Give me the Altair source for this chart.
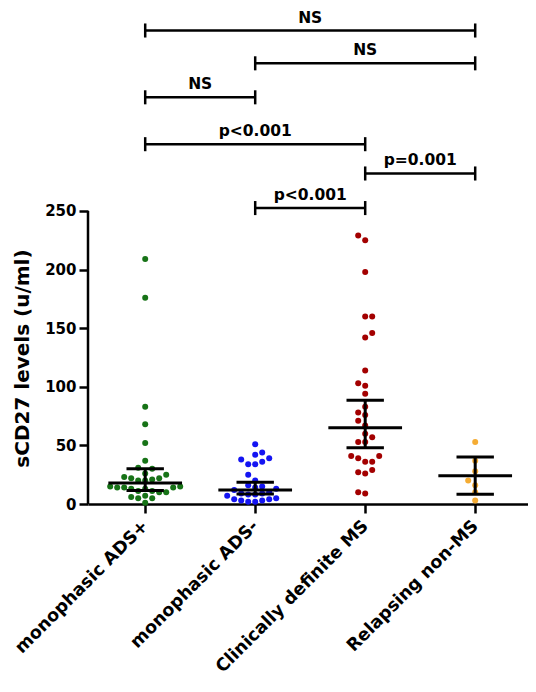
import json
import altair as alt
import pandas as pd

# ---------------- data ----------------
groups = ["monophasic ADS+", "monophasic ADS-", "Clinically definite MS", "Relapsing non-MS"]
colors = ["#177317", "#1414f2", "#a30000", "#f5ac33"]

ads_pos = [209, 176, 83, 68, 52, 37, 31, 30, 26, 25, 23, 22, 22, 21, 20, 20,
           15, 15, 14, 14, 14, 13, 13, 11, 11, 10, 10, 7, 6, 5, 5, 1]
ads_neg = [51, 44, 42, 39, 38, 36, 34, 34, 25, 20, 16, 15, 14, 13, 12, 10,
           9, 9, 8, 8, 7, 5, 4, 4, 3, 3, 2, 2]
cdms = [229, 225, 198, 160, 160, 146, 142, 114, 103, 101, 94, 83, 78, 76, 71,
        67, 60, 57, 53, 53, 41, 41, 39, 36, 36, 29, 27, 26, 10, 9]
relapsing = [53, 37, 28, 20, 16, 10, 3]

medians = [18, 12, 65, 24]
q1s = [11.5, 8.5, 48, 8.3]
q3s = [30, 18.5, 88.5, 40]

# significance brackets: (from group, to group, label)
br_from = [0, 1, 0, 0, 2, 1]
br_to = [3, 3, 1, 2, 3, 2]
br_label = ["NS", "NS", "NS", "p<0.001", "p=0.001", "p<0.001"]
br_level = [404, 376, 347, 307, 282, 252.5]

# ---------------- layout constants ----------------
W, H = 440, 496
PAD_L, PAD_T = 80, 0
PAD_R = 520 - PAD_L - W
PAD_B = 668 - H
X_DOM = [-0.02, 3.98]
Y_DOM = [0, 423.2]
PX_X = W / (X_DOM[1] - X_DOM[0])
PX_Y = H / (Y_DOM[1] - Y_DOM[0])
FONT = "DejaVu Sans"


def swarm(vals, diam=7.0):
    order = sorted(range(len(vals)), key=lambda i: vals[i])
    placed, offs = [], [0.0] * len(vals)
    flip = 1
    for i in order:
        y = vals[i] * PX_Y
        cands = [0.0]
        for j in range(1, 40):
            cands += [flip * j * diam / 2, -flip * j * diam / 2]
        for c in cands:
            if all((c - px) ** 2 + (y - py) ** 2 >= diam ** 2 for px, py in placed):
                break
        placed.append((c, y))
        offs[i] = c
        flip = -flip
    return offs


rows = []
for gi, vals in enumerate([ads_pos, ads_neg, cdms, relapsing]):
    offs = swarm(vals)
    for v, o in zip(vals, offs):
        rows.append({"group": groups[gi], "x": gi + 0.5 + o / PX_X, "value": v})
pts = pd.DataFrame(rows)

MED_HALF, Q_HALF = 0.335, 0.17
eb = pd.DataFrame({
    "gx": [i + 0.5 for i in range(4)],
    "median": medians, "q1": q1s, "q3": q3s,
})
eb["m1"] = eb.gx - MED_HALF
eb["m2"] = eb.gx + MED_HALF
eb["k1"] = eb.gx - Q_HALF
eb["k2"] = eb.gx + Q_HALF

br = pd.DataFrame({
    "x1": [f + 0.5 for f in br_from],
    "x2": [t + 0.5 for t in br_to],
    "label": br_label,
    "level": br_level,
})
br["xm"] = (br.x1 + br.x2) / 2
ends = pd.concat([
    pd.DataFrame({"x": br.x1, "level": br.level}),
    pd.DataFrame({"x": br.x2, "level": br.level}),
])
END_H = 6
ends["lo"] = ends.level - END_H
ends["hi"] = ends.level + END_H

axis_line = pd.DataFrame({"lo": [0], "hi": [250]})

# ---------------- scales / axes ----------------
label_expr = json.dumps(groups) + "[floor(datum.value)]"
xscale = alt.Scale(domain=X_DOM, nice=False, zero=False)
yscale = alt.Scale(domain=Y_DOM, nice=False, zero=False)
xaxis = alt.Axis(
    values=[0.5, 1.5, 2.5, 3.5], labelExpr=label_expr, title=None, grid=False,
    domainColor="black", domainWidth=2.5, tickColor="black", tickWidth=2.5,
    tickSize=9, labelAngle=315, labelAlign="right", labelBaseline="middle",
    labelFont=FONT, labelFontWeight="bold", labelFontSize=17.5, labelColor="black",
    labelPadding=10, labelFlush=False, labelOverlap=False, labelBound=False,
    labelLimit=0,
)
yaxis = alt.Axis(
    values=[0, 50, 100, 150, 200, 250], title="sCD27 levels (u/ml)", grid=False,
    domain=False, tickColor="black", tickWidth=2.5, tickSize=9,
    labelFont=FONT, labelFontWeight="bold", labelFontSize=15, labelColor="black",
    labelPadding=3, titleFont=FONT, titleFontWeight="bold", titleFontSize=20,
    titleColor="black", titleX=-56, titleY=350, labelOverlap=False, labelLimit=0,
)


def X(f):
    return alt.X(f, type="quantitative", scale=xscale, axis=xaxis)


def Y(f):
    return alt.Y(f, type="quantitative", scale=yscale, axis=yaxis)


yline = alt.Chart(axis_line).mark_rule(color="black", strokeWidth=2.5).encode(
    x=alt.value(0), y=Y("lo"), y2="hi")

dots = alt.Chart(pts).mark_circle(size=36, opacity=1).encode(
    x=X("x"), y=Y("value"),
    color=alt.Color("group:N", scale=alt.Scale(domain=groups, range=colors), legend=None),
)

STW = 3
med = alt.Chart(eb).mark_rule(color="black", strokeWidth=STW).encode(x=X("m1"), x2="m2", y=Y("median"))
qlo = alt.Chart(eb).mark_rule(color="black", strokeWidth=STW).encode(x=X("k1"), x2="k2", y=Y("q1"))
qhi = alt.Chart(eb).mark_rule(color="black", strokeWidth=STW).encode(x=X("k1"), x2="k2", y=Y("q3"))
vert = alt.Chart(eb).mark_rule(color="black", strokeWidth=STW).encode(x=X("gx"), y=Y("q1"), y2="q3")

bh = alt.Chart(br).mark_rule(color="black", strokeWidth=2.5).encode(x=X("x1"), x2="x2", y=Y("level"))
bv = alt.Chart(ends).mark_rule(color="black", strokeWidth=2.5).encode(x=X("x"), y=Y("lo"), y2="hi")
bt = alt.Chart(br).mark_text(
    font=FONT, fontWeight="bold", fontSize=15.5, color="black",
    baseline="alphabetic", align="center", dy=-8,
).encode(x=X("xm"), y=Y("level"), text="label:N")

chart = alt.layer(yline, dots, med, qlo, qhi, vert, bh, bv, bt).properties(
    width=W, height=H,
    autosize=alt.AutoSizeParams(type="none"),
    padding={"left": PAD_L, "right": PAD_R, "top": PAD_T, "bottom": PAD_B},
).configure(background="white").configure_view(stroke=None)

chart.save("out.html", embed_options={"renderer": "svg", "actions": False})
